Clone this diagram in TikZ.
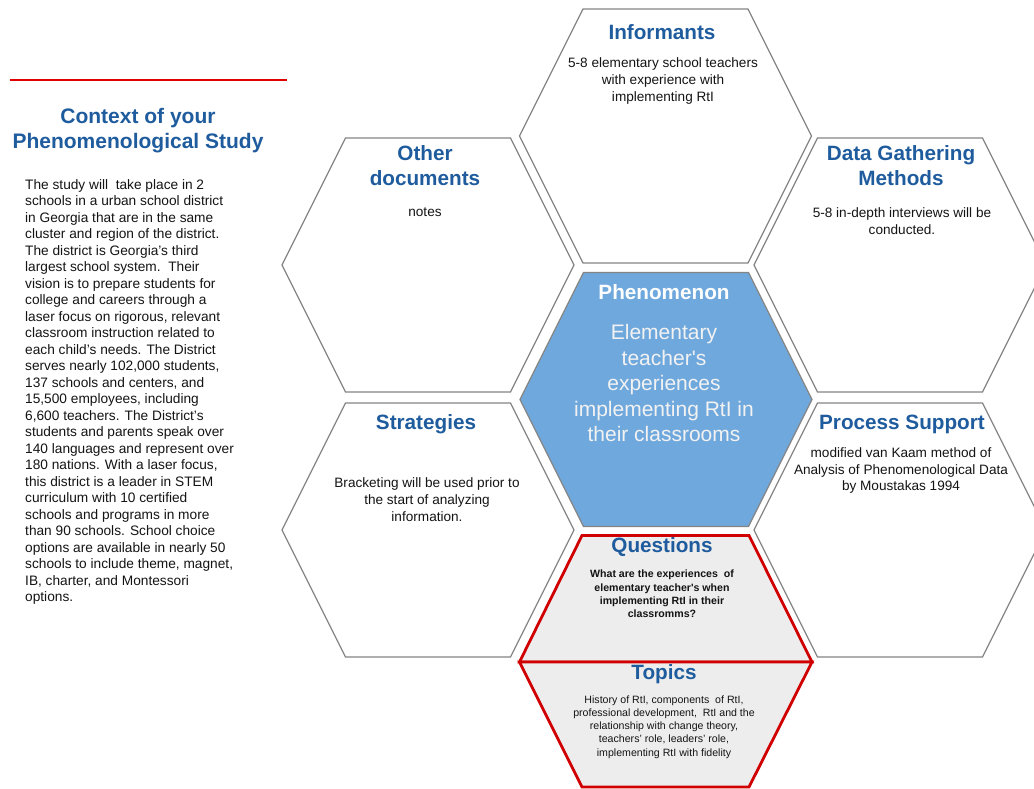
\documentclass[tikz,border=0pt]{standalone}
\usepackage{fontspec}
\setmainfont{Liberation Sans}
\definecolor{titleblue}{HTML}{1F5C9E}
\definecolor{hexgray}{HTML}{858585}
\definecolor{phenblue}{HTML}{6FA8DC}
\definecolor{qred}{HTML}{D00000}
\definecolor{qfill}{HTML}{EDEDED}
\definecolor{linered}{HTML}{E00000}
\begin{document}
\begin{tikzpicture}[x=1pt,y=-1pt,
  hexa/.pic={\path[pic actions] (-146,0) -- (-82.5,-127) -- (82.5,-127) -- (146,0) -- (82.5,127) -- (-82.5,127) -- cycle;},
  hexline/.style={draw=hexgray, line width=1.2pt, fill=white},
  hextitle/.style={font=\fontsize{20.7}{25}\selectfont\bfseries, text=titleblue, align=center, inner sep=0pt},
  hexbody/.style={font=\fontsize{13.6}{16.8}\selectfont, text=black!92, align=center, inner sep=0pt},
  smallbody/.style={font=\fontsize{10.6}{13.2}\selectfont, text=black!92, align=center, inner sep=0pt},
  sidetitle/.style={font=\fontsize{21}{25.5}\selectfont\bfseries, text=titleblue, align=center, inner sep=0pt},
  sidebody/.style={font=\fontsize{13.7}{16.5}\selectfont, text=black!92, align=left, inner sep=0pt}]
\useasboundingbox (0,0) rectangle (1034,789);
\clip (0,0) rectangle (1034,789);
\fill[white] (0,0) rectangle (1034,789);

% left panel
\coordinate (rl1) at (10,80);
\coordinate (rl2) at (287,80);
\draw[linered, line width=2pt] (rl1) -- (rl2);
\node[sidetitle] (ctitle) at (138,130.5) {Context of your\\Phenomenological Study};
\node[sidebody, anchor=north west] (cbody) at (25,179) {The study will\ \ take place in 2\\
schools in a urban school district\\
in Georgia that are in the same\\
cluster and region of the district.\\
The district is Georgia’s third\\
largest school system.\ \ Their\\
vision is to prepare students for\\
college and careers through a\\
laser focus on rigorous, relevant\\
classroom instruction related to\\
each child’s needs. The District\\
serves nearly 102,000 students,\\
137 schools and centers, and\\
15,500 employees, including\\
6,600 teachers. The District’s\\
students and parents speak over\\
140 languages and represent over\\
180 nations. With a laser focus,\\
this district is a leader in STEM\\
curriculum with 10 certified\\
schools and programs in more\\
than 90 schools. School choice\\
options are available in nearly 50\\
schools to include theme, magnet,\\
IB, charter, and Montessori\\
options.};

% hexagons
\pic[hexline] at (665.5,136) {hexa};
\pic[hexline] at (428,265) {hexa};
\pic[hexline] at (900,265) {hexa};
\pic[draw=hexgray, line width=1.2pt, fill=phenblue] at (666,399.5) {hexa};
\pic[hexline] at (428,530) {hexa};
\pic[hexline] at (900,530) {hexa};

% questions / topics
\coordinate (qL) at (519.5,662);
\coordinate (qR) at (812,662);
\filldraw[fill=qfill, draw=qred, line width=2.8pt, line join=miter]
  (qL) -- (582,535.5) -- (749,535.5) -- (qR) -- cycle;
\filldraw[fill=qfill, draw=qred, line width=2.8pt, line join=miter]
  (qL) -- (582,787) -- (749,787) -- (qR) -- cycle;

% texts
\node[hextitle] (tinf) at (662,32) {Informants};
\node[hexbody] (binf) at (663,81) {5-8 elementary school teachers\\with experience with\\implementing RtI};

\node[hextitle] (toth) at (425,165.5) {Other\\documents};
\node[hexbody] (both) at (425,212) {notes};

\node[hextitle] (tdat) at (901,165.5) {Data Gathering\\Methods};
\node[hexbody] (bdat) at (902,221) {5-8 in-depth interviews will be\\conducted.};

\node[hextitle, text=white] (tphen) at (664,292) {Phenomenon};
\node[font=\fontsize{21}{25.5}\selectfont, text=white!95!black, align=center, inner sep=0pt] (bphen) at (664,383) {Elementary\\teacher\textquotesingle s\\experiences\\implementing RtI in\\their classrooms};

\node[hextitle] (tstr) at (426,424) {Strategies};
\node[hexbody] (bstr) at (427,499.5) {Bracketing will be used prior to\\the start of analyzing\\information.};

\node[hextitle] (tpro) at (902,424) {Process Support};
\node[hexbody] (bpro) at (901,470.5) {modified van Kaam method of\\Analysis of Phenomenological Data\\by Moustakas 1994};

\node[hextitle] (tque) at (662,547) {Questions};
\node[smallbody, font=\fontsize{10.6}{13.2}\selectfont\bfseries] (bque) at (662,594) {What are the experiences\ \ of\\elementary teacher\textquotesingle s when\\implementing RtI in their\\classromms?};

\node[hextitle] (ttop) at (664,674) {Topics};
\node[smallbody] (btop) at (664,727) {History of RtI, components\ \ of RtI,\\professional development,\ \ RtI and the\\relationship with change theory,\\teachers’ role, leaders’ role,\\implementing RtI with fidelity};
\end{tikzpicture}
\end{document}
